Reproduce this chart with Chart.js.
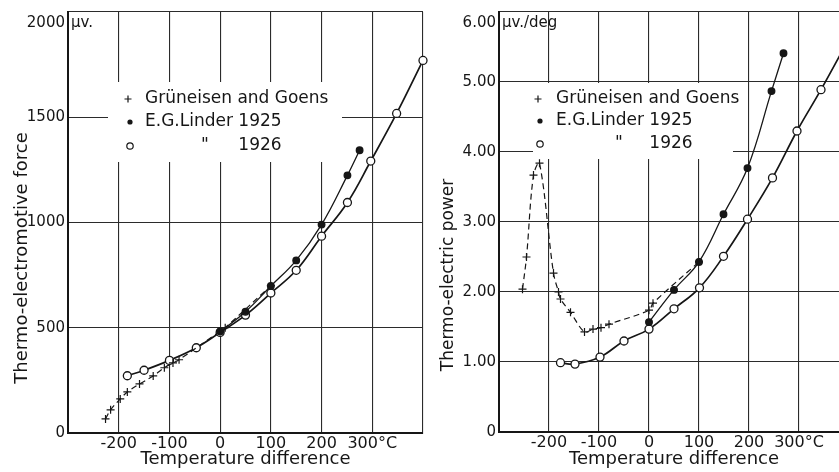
<!DOCTYPE html>
<html>
<head>
<meta charset="utf-8">
<script src="https://cdn.jsdelivr.net/npm/chart.js@4.4.1/dist/chart.umd.min.js"></script>
<style>
  body { margin:0; background:#fff; overflow:hidden; width:839px; height:472px; position:relative; }
  .panel { position:absolute; top:0; }
</style>
</head>
<body>
<div class="panel" style="left:0"><canvas id="emfChart" width="430" height="472"></canvas></div>
<div class="panel" style="left:430px"><canvas id="powerChart" width="440" height="472"></canvas></div>
<script>
// series names (legend)
var legendLabels = ['Grüneisen and Goens', 'E.G.Linder 1925', '1926'];

// x tick labels, both plates
var tempTicks = {'-200':'-200', '-100':'-100', '0':'0', '100':'100', '200':'200', '300':'300°C'};

// left plate : thermo-electromotive force (microvolts) vs temperature difference
var emfGoensT  = [-226, -216, -197, -183, -159, -132, -110, -93, -81, 0, 10, 100];
var emfGoensV  = [67, 110, 162, 195, 233, 271, 310, 333, 348, 484, 500, 700];
var emf1925T   = [0, 50, 100, 150, 200, 251, 275];
var emf1925V   = [482, 576, 698, 820, 990, 1224, 1343];
var emf1926T   = [-183, -150, -100, -47, 0, 50, 100, 150, 200, 251, 297, 348, 400];
var emf1926V   = [272, 298, 345, 405, 478, 560, 665, 773, 935, 1095, 1292, 1518, 1770];

// right plate : thermo-electric power (microvolts / deg)
var powGoensT  = [-253, -245, -231, -219, -191, -181, -177, -157, -129, -112, -96, -80, 0, 8, 100];
var powGoensP  = [2.04, 2.50, 3.67, 3.84, 2.27, 2.00, 1.90, 1.71, 1.43, 1.47, 1.49, 1.54, 1.74, 1.84, 2.43];
var pow1925T   = [0, 50, 100, 149, 197, 245, 269];
var pow1925P   = [1.57, 2.03, 2.43, 3.11, 3.77, 4.87, 5.41];
var pow1926T   = [-177, -148, -98, -50, 0, 50, 101, 149, 197, 247, 296, 344, 400];
var pow1926P   = [0.99, 0.97, 1.07, 1.30, 1.47, 1.76, 2.06, 2.51, 3.04, 3.63, 4.30, 4.89, 5.62];

var ink = '#161616';
var face = 'DejaVu Sans';

function pts(xs, ys){
    return xs.map(function(x, i){ return {x:x, y:ys[i]} });
}

function makeDatasets(gT, gV, aT, aV, bT, bV){
    return [{
        label:legendLabels[0], data:pts(gT, gV),
        borderColor:ink, borderWidth:1.2, borderDash:[6,4],
        pointStyle:'cross', pointRadius:4, pointBorderWidth:1.2, pointBorderColor:ink,
        tension:0.35, clip:false
    },{
        label:legendLabels[1], data:pts(aT, aV),
        borderColor:ink, borderWidth:1.3,
        pointStyle:'circle', pointRadius:3.3, pointBackgroundColor:ink, pointBorderColor:ink,
        tension:0.4, clip:false
    },{
        label:legendLabels[2], data:pts(bT, bV),
        borderColor:ink, borderWidth:1.7,
        pointStyle:'circle', pointRadius:4, pointBorderWidth:1.3, pointBackgroundColor:'#fff', pointBorderColor:ink,
        tension:0.4, clip:false
    }];
}

// plate furniture : legend box, unit label at top of y axis, rotated y title
var platePlugin = {
    id:'plate',
    beforeDatasetsDraw:function(chart, args, o){
        var ctx = chart.ctx, lg = o.legend;
        ctx.save();
        ctx.fillStyle = '#fff';
        ctx.fillRect(lg.box[0], lg.box[1], lg.box[2], lg.box[3]);
        ctx.restore();
    },
    afterDraw:function(chart, args, o){
        var ctx = chart.ctx, lg = o.legend;
        ctx.save();
        ctx.fillStyle = ink; ctx.strokeStyle = ink;
        ctx.font = '17px "' + face + '"';
        ctx.textBaseline = 'middle';
        var ds = chart.data.datasets;
        var endX = 0;
        for (var i = 0; i < 3; i++) {
            var y = lg.rows[i];
            var mx = lg.markX + (i == 0 ? 0 : 2);
            if (i == 0) {
                ctx.lineWidth = 1.2;
                ctx.beginPath(); ctx.moveTo(mx-3.5, y); ctx.lineTo(mx+3.5, y);
                ctx.moveTo(mx, y-3.5); ctx.lineTo(mx, y+3.5); ctx.stroke();
            } else {
                ctx.beginPath(); ctx.arc(mx, y, i == 1 ? 2.6 : 3.2, 0, Math.PI*2);
                if (i == 1) ctx.fill(); else { ctx.lineWidth = 1.2; ctx.stroke(); }
            }
            ctx.textAlign = 'left';
            if (i < 2) {
                ctx.fillText(ds[i].label, lg.textX, y);
                if (i == 1) endX = lg.textX + ctx.measureText(ds[i].label).width;
            } else {
                ctx.fillText('"', lg.dittoX, y);
                ctx.textAlign = 'right';
                ctx.fillText(ds[i].label, endX, y);
            }
        }
        // unit label at the top of the y axis
        var ya = chart.scales.y, left = chart.chartArea.left;
        var ty = ya.getPixelForValue(ya.max) + 11;
        ctx.font = '15px "' + face + '"';
        ctx.textAlign = 'right';
        ctx.fillText(o.topValue, left - 3, ty);
        ctx.textAlign = 'left';
        ctx.fillText(o.unit, left + 3, ty);
        // y title
        ctx.font = o.titleSize + 'px "' + face + '"';
        ctx.translate(o.titleX, o.titleY);
        ctx.rotate(-Math.PI/2);
        ctx.textAlign = 'center';
        ctx.fillText(o.title, 0, 0);
        ctx.restore();
    }
};

function plateOptions(yMax, yStep, yFmt, axisWidth, padRight, padTop, plate){
    return {
        responsive:false,
        animation:false,
        layout:{ padding:{ top:padTop, right:padRight, left:0, bottom:0 } },
        plugins:{ legend:{display:false}, tooltip:{enabled:false}, plate:plate },
        scales:{
            x:{
                type:'linear', min:-300, max:400,
                ticks:{ stepSize:100, color:ink, padding:1, maxRotation:0, autoSkip:false,
                        font:{family:face, size:16},
                        callback:function(v){ return tempTicks[v] || '' } },
                grid:{ color:'#2b2b2b', lineWidth:1.1, drawTicks:false },
                border:{ color:ink, width:2 },
                title:{ display:true, text:'Temperature difference', color:ink,
                        font:{family:face, size:18}, padding:{top:0, bottom:plate.xTitlePad} },
                afterFit:function(s){ s.height = plate.xAxisHeight }
            },
            y:{
                min:0, max:yMax,
                ticks:{ stepSize:yStep, color:ink, padding:3, font:{family:face, size:15},
                        callback:function(v){ return v == yMax ? '' : yFmt(v) } },
                grid:{ color:'#2b2b2b', lineWidth:1.1, drawTicks:false },
                border:{ color:ink, width:2 },
                afterFit:function(s){ s.width = axisWidth }
            }
        }
    };
}

var emfChart = new Chart(document.getElementById('emfChart'), {
    type:'line',
    data:{ datasets:makeDatasets(emfGoensT, emfGoensV, emf1925T, emf1925V, emf1926T, emf1926V) },
    options:plateOptions(2000, 500, function(v){ return String(v) }, 68, 7, 12, {
        legend:{ box:[108, 82, 234, 80], markX:128, textX:145, dittoX:201, rows:[99, 122, 146] },
        topValue:'2000', unit:'μv.',
        title:'Thermo-electromotive force', titleX:22, titleY:258, titleSize:18,
        xAxisHeight:39, xTitlePad:2
    }),
    plugins:[platePlugin]
});

var powerChart = new Chart(document.getElementById('powerChart'), {
    type:'line',
    data:{ datasets:makeDatasets(powGoensT, powGoensP, pow1925T, pow1925P, pow1926T, pow1926P) },
    options:plateOptions(6, 1, function(v){ return v == 0 ? '0' : v.toFixed(2) }, 69, 21, 11, {
        legend:{ box:[103, 83, 200, 76], markX:108, textX:126, dittoX:185, rows:[99, 121, 144] },
        topValue:'6.00', unit:'μv./deg',
        title:'Thermo-electric power', titleX:19, titleY:275, titleSize:17,
        xAxisHeight:40, xTitlePad:2
    }),
    plugins:[platePlugin]
});
</script>
</body>
</html>
